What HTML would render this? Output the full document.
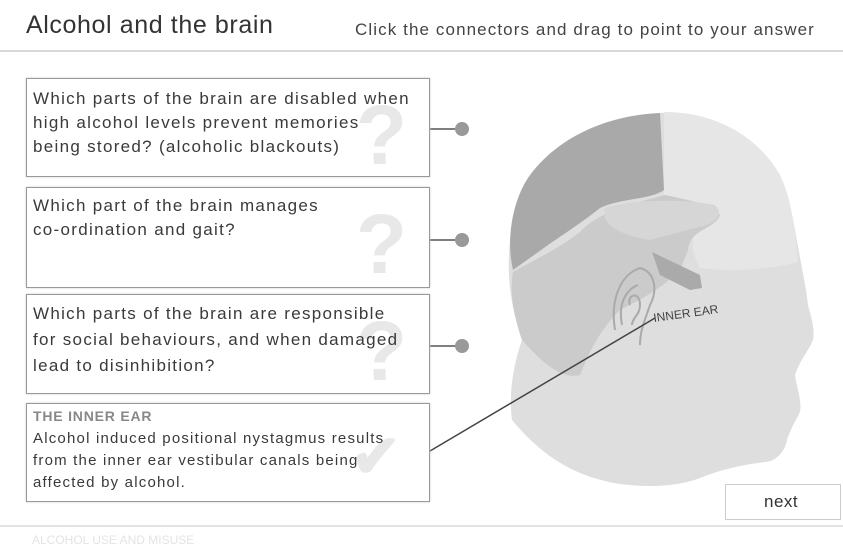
<!DOCTYPE html>
<html><head><meta charset="utf-8"><style>
body{margin:0;width:843px;height:549px;background:#fff;position:relative;overflow:hidden;font-family:"Liberation Sans",sans-serif;color:#333}
.t{position:absolute;white-space:nowrap}
.box{position:absolute;left:26px;width:402px;border:1px solid #999;background:#fff;box-shadow:0 0 2px #ccc}
.box p{margin:0;position:absolute;left:6px;top:8px;font-size:17px;letter-spacing:1.3px;line-height:24px;color:#3a3a3a;z-index:2;white-space:nowrap}
.q{position:absolute;right:22px;top:8px;font-size:84px;font-weight:bold;color:#e8e8e8;z-index:1}
</style></head><body>
<div class="t" style="left:26px;top:11px;font-size:25px;letter-spacing:0.6px;color:#333">Alcohol and the brain</div>
<div class="t" style="left:355px;top:20px;font-size:17px;letter-spacing:1.1px;color:#444">Click the connectors and drag to point to your answer</div>
<div style="position:absolute;left:0;top:50px;width:843px;height:2px;background:#d8d8d8"></div>

<svg width="843" height="549" style="position:absolute;left:0;top:0">
<path d="M660,113 C700,110 725,125 745,140 C775,165 790,195 795,230 C800,260 806,285 808,305 C812,320 815,330 813,340 C808,352 800,360 795,375 C797,390 802,400 800,412 C795,422 790,430 787,440 C785,452 775,462 765,462 C740,465 720,470 700,478 C680,486 650,488 620,484 C580,478 545,460 512,420 C508,390 515,360 522,340 C512,310 506,280 510,240 C516,190 560,125 660,113 Z" fill="#dedede"/>
<path d="M664,112 C720,112 760,140 780,175 C792,200 795,230 798,262 C770,270 730,272 700,268 C690,250 690,235 700,222 C700,205 680,205 664,195 Z" fill="#e6e6e6"/>
<path d="M660,113 L664,190 C650,200 620,198 600,208 C585,220 570,230 548,245 C530,258 520,265 513,270 C506,240 512,200 530,175 C560,135 610,115 660,113 Z" fill="#a9a9a9"/>
<path d="M513,272 C530,262 560,248 580,232 C600,210 640,202 665,195 C690,200 712,205 720,215 C715,230 690,228 688,250 L680,270 C660,290 640,300 620,310 C600,330 590,350 580,375 C560,380 540,360 522,340 C512,310 510,290 513,272 Z" fill="#cbcbcb"/>
<path d="M605,208 C630,200 680,198 715,205 C725,215 715,225 695,228 L650,240 C620,235 600,225 605,208 Z" fill="#d6d6d6"/>
<path d="M652,252 L700,275 L702,288 L690,290 L660,275 Z" fill="#aaa"/>
<path d="M615,330 C610,300 620,275 640,268 C655,272 658,290 650,305 C645,320 640,330 640,345 M622,325 C618,305 625,290 638,285 M630,305 C626,295 640,290 640,305 C640,315 632,318 632,325" fill="none" stroke="#aaa" stroke-width="2"/>
<line x1="430" y1="451" x2="655" y2="318" stroke="#444" stroke-width="1.5"/>
<text x="654" y="322" font-size="12" fill="#444" font-family="Liberation Sans" transform="rotate(-8 654 322)">INNER EAR</text>
<g stroke="#555" stroke-width="1.5"><line x1="430" y1="129" x2="455" y2="129"/><line x1="430" y1="240" x2="455" y2="240"/><line x1="430" y1="346" x2="455" y2="346"/></g>
<g fill="#999"><circle cx="462" cy="129" r="7"/><circle cx="462" cy="240" r="7"/><circle cx="462" cy="346" r="7"/></g>
</svg>

<div class="box" style="top:78px;height:97px"><span class="q">?</span><p>Which parts of the brain are disabled when<br>high alcohol levels prevent memories<br>being stored? (alcoholic blackouts)</p></div>
<div class="box" style="top:187px;height:99px"><span class="q">?</span><p style="top:6px">Which part of the brain manages<br>co-ordination and gait?</p></div>
<div class="box" style="top:294px;height:98px"><span class="q">?</span><p style="top:6px;line-height:26px">Which parts of the brain are responsible<br>for social behaviours, and when damaged<br>lead to disinhibition?</p></div>
<div class="box" style="top:403px;height:97px"><span class="q" style="font-size:60px;top:18px;right:28px">✔</span>
<p style="top:4px;font-size:14px;letter-spacing:0.8px;line-height:16px;color:#888;font-weight:bold">THE INNER EAR</p>
<p style="top:24px;font-size:15px;letter-spacing:1.2px;line-height:22px">Alcohol induced positional nystagmus results<br>from the inner ear vestibular canals being<br>affected by alcohol.</p></div>

<div style="position:absolute;left:725px;top:484px;width:114px;height:34px;border:1px solid #ccc;background:#fff"></div>
<div class="t" style="left:764px;top:492px;font-size:17px;letter-spacing:0.5px;color:#333">next</div>
<div style="position:absolute;left:0;top:525px;width:843px;height:2px;background:#e2e2e2"></div>
<div class="t" style="left:32px;top:533px;font-size:12px;color:#e4e4e4">ALCOHOL USE AND MISUSE</div>
</body></html>
